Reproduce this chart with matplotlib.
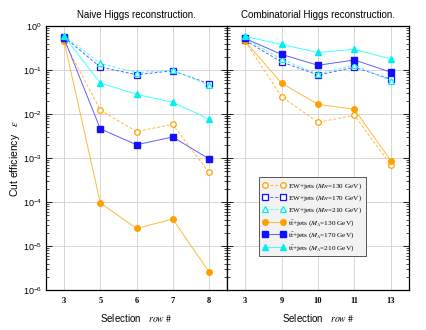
import numpy as np
import matplotlib
matplotlib.use("Agg")
from matplotlib import pyplot as plt

plt.rcParams['font.family'] = ['Liberation Sans', 'DejaVu Sans']
plt.rcParams['mathtext.fontset'] = 'stix'

# selection rows
rows_naive = ['3', '5', '6', '7', '8']
rows_comb = ['3', '9', '10', '11', '13']

# naive Higgs reconstruction
naive_ew130 = [0.45, 0.0123, 0.0040, 0.0058, 0.00047]
naive_ew170 = [0.56, 0.117, 0.078, 0.096, 0.049]
naive_ew210 = [0.60, 0.142, 0.087, 0.100, 0.045]
naive_tt130 = [0.45, 9.5e-5, 2.5e-5, 4.1e-5, 2.6e-6]
naive_tt170 = [0.52, 0.0046, 0.0020, 0.0030, 0.00096]
naive_tt210 = [0.58, 0.051, 0.028, 0.0185, 0.0077]

# combinatorial Higgs reconstruction
comb_ew130 = [0.45, 0.0247, 0.0065, 0.0093, 0.00070]
comb_ew170 = [0.47, 0.152, 0.077, 0.115, 0.062]
comb_ew210 = [0.52, 0.175, 0.081, 0.130, 0.057]
comb_tt130 = [0.45, 0.050, 0.0166, 0.0128, 0.00087]
comb_tt170 = [0.52, 0.226, 0.128, 0.169, 0.089]
comb_tt210 = [0.58, 0.38, 0.25, 0.295, 0.178]

labels = [r'EW+jets ($M_{H}$=130 GeV)', r'EW+jets ($M_{H}$=170 GeV)', r'EW+jets ($M_{H}$=210 GeV)',
          r'$\mathrm{t\bar{t}}$+jets ($M_{A}$=130 GeV)', r'$\mathrm{t\bar{t}}$+jets ($M_{A}$=170 GeV)',
          r'$\mathrm{t\bar{t}}$+jets ($M_{A}$=210 GeV)']
colors = ['#ffa000', '#1010ff', '#00f0f0']
lcolors = ['#ffb840', '#6060ff', '#40ffff']
markers = ['o', 's', '^']

fig = plt.figure(figsize=(4.27, 3.30), dpi=100)
ax1 = fig.add_axes([46/427, 1-290/330, 181/427, 264/330])
ax2 = fig.add_axes([227/427, 1-290/330, 182/427, 264/330])

def draw(ax, rows, ew, tt, title):
    x = np.arange(len(rows))
    for i in range(3):
        ax.plot(x, ew[i], color=lcolors[i], lw=0.7, ls=(0, (3, 2)), marker=markers[i], ms=4,
                mfc='white', mec=colors[i], mew=0.9, label=labels[i], zorder=3)
    for i in range(3):
        ax.plot(x, tt[i], '-', color=lcolors[i], lw=0.7, marker=markers[i], ms=4,
                mfc=colors[i], mec=colors[i], label=labels[i+3], zorder=3)
    ax.set_yscale('log')
    ax.set_ylim(1e-6, 1)
    ax.set_xlim(-0.5, len(rows)-0.5)
    ax.set_xticks(x)
    ax.set_xticklabels(rows, family='Liberation Serif', fontweight='bold', fontsize=6)
    ax.tick_params(axis='x', length=0, pad=5)
    ax.tick_params(axis='y', which='both', direction='in', left=True, right=True)
    ax.tick_params(axis='y', which='major', length=4, width=0.6, labelsize=6.5, pad=3)
    ax.tick_params(axis='y', which='minor', length=2, width=0.5)
    ax.yaxis.set_major_locator(matplotlib.ticker.LogLocator(base=10, numticks=10))
    ax.yaxis.set_minor_locator(matplotlib.ticker.LogLocator(base=10, subs=np.arange(2, 10), numticks=10))
    ax.grid(True, which='major', color='#d0d0d0', lw=0.6, zorder=0)
    ax.set_axisbelow(True)
    ax.set_title(title, fontsize=7, pad=6)
    ax.set_xlabel(r'Selection   $row\ \#$', fontsize=7, labelpad=5)
    for s in ax.spines.values():
        s.set_linewidth(0.9)

draw(ax1, rows_naive, [naive_ew130, naive_ew170, naive_ew210],
     [naive_tt130, naive_tt170, naive_tt210], 'Naive Higgs reconstruction.')
draw(ax2, rows_comb, [comb_ew130, comb_ew170, comb_ew210],
     [comb_tt130, comb_tt170, comb_tt210], 'Combinatorial Higgs reconstruction.')
ax2.tick_params(axis='y', which='both', labelleft=False)

ax1.set_ylabel(r'Cut efficiency   $\varepsilon$', fontsize=7.5)
ax1.yaxis.set_label_coords(-0.13, 0.5)

leg = ax2.legend(loc='upper left', bbox_to_anchor=(0.155, 0.44), fontsize=5,
                 prop={'family': 'Liberation Serif', 'size': 5.2}, numpoints=2,
                 fancybox=False, framealpha=1, facecolor='#f2f2f2', edgecolor='#555555',
                 handlelength=3.2, labelspacing=0.35, borderpad=0.5, handletextpad=0.4)
leg.get_frame().set_linewidth(0.7)

fig.savefig('out.png', dpi=100)
